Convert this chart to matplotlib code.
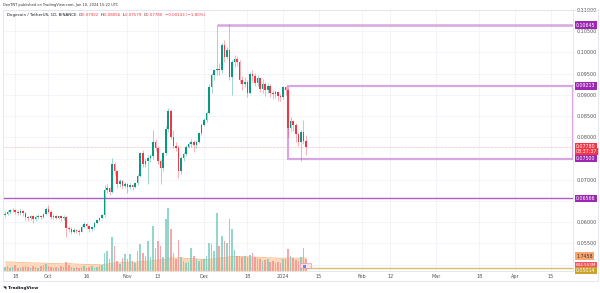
"""DOGE/USDT daily chart, TradingView-style snapshot."""
import matplotlib
matplotlib.use('Agg')
import matplotlib.pyplot as plt
import matplotlib.dates as mdates
import pandas as pd
from matplotlib.patches import Rectangle, FancyBboxPatch
from matplotlib.transforms import blended_transform_factory

plt.rcParams['font.family'] = 'DejaVu Sans'

# ── Data ─────────────────────────────────────────────────────────
dates = pd.date_range('2023-09-14', '2024-01-10', freq='D')
first_open = 0.0616
close = [
    0.0620, 0.0624, 0.0628, 0.0630, 0.0625, 0.0622, 0.0627, 0.0621, 0.0612, 0.0609,
    0.0614, 0.0608, 0.0612, 0.0615, 0.0613, 0.0620, 0.0632, 0.0625, 0.0612, 0.0615,
    0.0611, 0.0614, 0.0610, 0.0612, 0.0586, 0.0584, 0.0578, 0.0582, 0.0580, 0.0578,
    0.0590, 0.0597, 0.0592, 0.0585, 0.0588, 0.0598, 0.0605, 0.0610, 0.0616, 0.0675,
    0.0680, 0.0672, 0.0738, 0.0720, 0.0690, 0.0697, 0.0685, 0.0690, 0.0682, 0.0688,
    0.0684, 0.0692, 0.0710, 0.0762, 0.0738, 0.0745, 0.0752, 0.0755, 0.0788, 0.0775,
    0.0745, 0.0727, 0.0762, 0.0820, 0.0862, 0.0802, 0.0780, 0.0776, 0.0720, 0.0752,
    0.0760, 0.0778, 0.0784, 0.0788, 0.0782, 0.0790, 0.0810, 0.0830, 0.0840, 0.0858,
    0.0918, 0.0946, 0.0958, 0.0962, 0.0958, 0.1017, 0.0990, 0.1005, 0.0942, 0.0978,
    0.0985, 0.0978, 0.0935, 0.0925, 0.0930, 0.0905, 0.0950, 0.0945, 0.0928, 0.0940,
    0.0915, 0.0925, 0.0912, 0.0920, 0.0905, 0.0902, 0.0906, 0.0898, 0.0895, 0.0918,
    0.0912, 0.0822, 0.0838, 0.0830, 0.0808, 0.0790, 0.0812, 0.07922, 0.07780,
]
high = [
    0.0626, 0.0629, 0.0632, 0.0634, 0.0632, 0.0628, 0.0632, 0.0630, 0.0624, 0.0615,
    0.0618, 0.0617, 0.0616, 0.0619, 0.0618, 0.0622, 0.0636, 0.0640, 0.0628, 0.0619,
    0.0617, 0.0618, 0.0617, 0.0616, 0.0614, 0.0592, 0.0588, 0.0586, 0.0585, 0.0584,
    0.0593, 0.0600, 0.0599, 0.0594, 0.0592, 0.0601, 0.0608, 0.0613, 0.0619, 0.0688,
    0.0690, 0.0684, 0.0752, 0.0743, 0.0724, 0.0703, 0.0700, 0.0694, 0.0693, 0.0693,
    0.0691, 0.0695, 0.0713, 0.0766, 0.0770, 0.0752, 0.0758, 0.0760, 0.0818, 0.0795,
    0.0780, 0.0750, 0.0766, 0.0826, 0.0868, 0.0866, 0.0818, 0.0790, 0.0782, 0.0756,
    0.0765, 0.0781, 0.0790, 0.0797, 0.0794, 0.0794, 0.0813, 0.0834, 0.0846, 0.0863,
    0.0925, 0.0952, 0.0962, 0.10645, 0.0975, 0.1022, 0.1030, 0.1012, 0.1068, 0.0982,
    0.0995, 0.0992, 0.0983, 0.0945, 0.0942, 0.0935, 0.0953, 0.0958, 0.0952, 0.0946,
    0.0942, 0.0938, 0.0930, 0.0928, 0.0925, 0.0912, 0.0912, 0.0910, 0.0902, 0.0922,
    0.09213, 0.0915, 0.0848, 0.0842, 0.0835, 0.0812, 0.0818, 0.0840, 0.08056,
]
low = [
    0.0612, 0.0616, 0.0620, 0.0624, 0.0620, 0.0617, 0.0618, 0.0615, 0.0606, 0.0603,
    0.0605, 0.0598, 0.0604, 0.0608, 0.0607, 0.0610, 0.0618, 0.0621, 0.0607, 0.0608,
    0.0607, 0.0608, 0.0604, 0.0606, 0.0566, 0.0576, 0.0572, 0.0574, 0.0575, 0.0570,
    0.0576, 0.0586, 0.0586, 0.0578, 0.0580, 0.0585, 0.0595, 0.0602, 0.0608, 0.0612,
    0.0668, 0.0664, 0.0668, 0.0712, 0.0680, 0.0684, 0.0679, 0.0680, 0.0668, 0.0678,
    0.0676, 0.0680, 0.0688, 0.0707, 0.0730, 0.0730, 0.0690, 0.0742, 0.0750, 0.0768,
    0.0738, 0.0690, 0.0720, 0.0758, 0.0812, 0.0795, 0.0774, 0.0768, 0.0705, 0.0714,
    0.0745, 0.0755, 0.0775, 0.0778, 0.0765, 0.0775, 0.0786, 0.0806, 0.0826, 0.0836,
    0.0855, 0.0905, 0.0936, 0.0948, 0.0948, 0.0952, 0.0978, 0.0984, 0.0935, 0.0899,
    0.0965, 0.0968, 0.0928, 0.0912, 0.0918, 0.0895, 0.0902, 0.0930, 0.0920, 0.0922,
    0.0908, 0.0905, 0.0898, 0.0905, 0.0895, 0.0890, 0.0893, 0.0885, 0.0885, 0.0890,
    0.0900, 0.0800, 0.0815, 0.0815, 0.0790, 0.0780, 0.0745, 0.0785, 0.07579,
]
# volume in billions DOGE
volume = [
    0.20, 0.25, 0.15, 0.20, 0.30, 0.15, 0.15, 0.20, 0.25, 0.20,
    0.15, 0.25, 0.20, 0.15, 0.25, 0.30, 0.35, 0.25, 0.20, 0.15,
    0.20, 0.15, 0.25, 0.20, 0.45, 0.30, 0.20, 0.15, 0.20, 0.15,
    0.20, 0.25, 0.15, 0.20, 0.25, 0.15, 0.20, 0.25, 0.30, 0.90,
    1.00, 0.60, 1.70, 1.25, 0.50, 0.35, 0.65, 0.85, 0.60, 0.85,
    0.50, 0.40, 1.00, 1.35, 0.90, 0.75, 1.50, 0.70, 2.25, 1.15,
    1.50, 1.25, 0.70, 2.60, 3.15, 2.10, 0.90, 0.60, 1.55, 0.70,
    0.50, 0.40, 0.45, 1.15, 0.75, 0.60, 0.50, 0.55, 0.60, 0.75,
    1.40, 1.35, 1.00, 2.90, 1.25, 1.75, 1.50, 1.40, 2.60, 2.10,
    1.05, 0.75, 0.75, 0.70, 0.75, 0.70, 0.80, 0.90, 0.70, 0.65,
    0.60, 0.50, 0.55, 0.60, 0.45, 0.50, 0.40, 0.45, 0.40, 0.60,
    0.60, 1.10, 0.75, 0.65, 0.55, 0.50, 0.70, 1.15, 0.60,
]
volume_band = [
    0.45, 0.45, 0.45, 0.44, 0.44, 0.43, 0.43, 0.42, 0.42, 0.41,
    0.41, 0.40, 0.40, 0.40, 0.39, 0.39, 0.39, 0.38, 0.38, 0.38,
    0.37, 0.37, 0.36, 0.36, 0.37, 0.37, 0.36, 0.35, 0.35, 0.34,
    0.34, 0.33, 0.33, 0.33, 0.32, 0.32, 0.32, 0.31, 0.31, 0.33,
    0.35, 0.36, 0.39, 0.41, 0.41, 0.41, 0.42, 0.43, 0.43, 0.44,
    0.44, 0.44, 0.45, 0.47, 0.48, 0.48, 0.50, 0.50, 0.53, 0.54,
    0.55, 0.56, 0.56, 0.59, 0.63, 0.65, 0.65, 0.65, 0.66, 0.65,
    0.64, 0.63, 0.62, 0.62, 0.61, 0.60, 0.59, 0.58, 0.58, 0.58,
    0.59, 0.60, 0.60, 0.64, 0.65, 0.66, 0.67, 0.68, 0.71, 0.73,
    0.73, 0.73, 0.72, 0.72, 0.71, 0.71, 0.70, 0.70, 0.69, 0.69,
    0.68, 0.67, 0.67, 0.66, 0.66, 0.65, 0.65, 0.64, 0.64, 0.64,
    0.64, 0.65, 0.65, 0.65, 0.64, 0.64, 0.64, 0.65, 0.65,
]

tick_dates = ['2023-09-18', '2023-10-01', '2023-10-16', '2023-11-01', '2023-11-13',
              '2023-12-01', '2023-12-18', '2024-01-01', '2024-01-15', '2024-02-01',
              '2024-02-12', '2024-03-01', '2024-03-18', '2024-04-01', '2024-04-15']
tick_labels = ['18', 'Oct', '16', 'Nov', '13', 'Dec', '18', '2024', '15', 'Feb',
               '12', 'Mar', '18', 'Apr', '15']
grid_prices = [0.050, 0.055, 0.060, 0.065, 0.070, 0.075, 0.080, 0.085, 0.090,
               0.095, 0.100, 0.105, 0.110]
price_ticks = [0.055, 0.060, 0.070, 0.080, 0.085, 0.090, 0.095, 0.100, 0.105, 0.110]

resistance = 0.10645
resistance_from = '2023-12-06'
box_top, box_bottom = 0.09213, 0.07500
box_from = '2024-01-03'
support = 0.06566
last_price = 0.07780
indicator_level = 0.0492

GREEN = '#089981'
RED = '#f23645'
PURPLE_LIGHT = '#d7a6e3'
PURPLE = '#b05cc4'

# ── Figure ──────────────────────────────────────────────────────
W, H = 600, 293
fig = plt.figure(figsize=(W / 100, H / 100), dpi=100)
ax = fig.add_axes([3 / W, 1 - 271 / H, 570 / W, 261 / H])

x = mdates.date2num(dates)
opens = [first_open] + close[:-1]
x0 = x[0]
ax.set_xlim(x0 - 0.8, x0 + 222.7)
ax.set_ylim(0.04852, 0.1100)
xmax = x0 + 222.7

# grid
for gp in grid_prices:
    ax.axhline(gp, color='#f0f3fa', lw=0.6, zorder=0)
tick_x = mdates.date2num(pd.to_datetime(tick_dates))
for tx in tick_x:
    ax.axvline(tx, color='#f0f3fa', lw=0.6, zorder=0)

# volume on own scale
axv = ax.twinx()
axv.set_ylim(0, 261 / 20)
axv.set_yticks([])
axv.fill_between(x, 0, volume_band, color='#fcd3b0', alpha=0.85, lw=0, zorder=1)
axv.plot(x, volume_band, color='#f9b98a', lw=0.6, zorder=1)
vcol = ['#6fc9bc' if c >= o else '#f5898f' for o, c in zip(opens, close)]
axv.bar(x, volume, width=0.62, color=vcol, alpha=0.75, lw=0, zorder=2)
for s in axv.spines.values():
    s.set_visible(False)

# levels
ax.axhline(support, color=PURPLE, lw=1.0, zorder=2)
ax.hlines(resistance, mdates.date2num(pd.Timestamp(resistance_from)), xmax,
          color=PURPLE_LIGHT, lw=1.8, zorder=2)
bx = mdates.date2num(pd.Timestamp(box_from))
ax.add_patch(Rectangle((bx, box_bottom), xmax - bx, box_top - box_bottom,
                       fill=False, edgecolor=PURPLE_LIGHT, lw=1.6, zorder=2))
ax.axhline(last_price, color='#f7a1a8', lw=0.5, ls=(0, (1, 1)), zorder=2)
ax.axhline(indicator_level, color='#d9bf6a', lw=1.0, zorder=3)

# candles
for xi, o, h, l, c in zip(x, opens, high, low, close):
    col = GREEN if c >= o else RED
    ax.vlines(xi, l, h, color=col, lw=0.6, alpha=0.45, zorder=3)
    body = max(abs(c - o), 0.00012)
    ax.bar(xi, body, bottom=min(o, c), width=0.62, color=col, lw=0, zorder=4)

# small event marker near the last bar
fig.add_artist(FancyBboxPatch((301 / W, 1 - 268 / H), 10 / W, 4 / H,
                              boxstyle='round,pad=0.001', transform=fig.transFigure,
                              fc='#fde3ea', ec='#f48fb1', lw=0.5, zorder=20))
fig.add_artist(Rectangle((303 / W, 1 - 267.5 / H), 3 / W, 3 / H,
                         transform=fig.transFigure, fc='#4f8fe8', ec='none', zorder=21))

# axes styling
ax.set_xticks(tick_x)
ax.set_xticklabels(tick_labels)
ax.set_yticks(price_ticks)
ax.set_yticklabels([f'{p:.5f}' for p in price_ticks])
ax.yaxis.tick_right()
ax.tick_params(axis='both', length=0, labelsize=3.5, colors='#555555')
ax.tick_params(axis='y', pad=2.5)
ax.tick_params(axis='x', pad=2.5)
for name, s in ax.spines.items():
    s.set_color('#e0e3eb')
    s.set_linewidth(0.6)
ax.spines['top'].set_visible(False)
ax.spines['left'].set_visible(False)

# price tags on right axis
tr = blended_transform_factory(ax.transAxes, ax.transData)


def tag(y, text, fc, tc='white', size=3.4):
    ax.text(1.0 + 3 / 570, y, text, transform=tr, fontsize=size, color=tc,
            va='center', ha='left', zorder=10, clip_on=False,
            bbox=dict(boxstyle='square,pad=0.25', fc=fc, ec='none'))


tag(resistance, f'{resistance:.5f}', '#9c27b0')
tag(box_top, f'{box_top:.5f}', '#9c27b0')
tag(last_price, f'{last_price:.5f}', RED)
tag(last_price - 0.00118, '08:37:37', RED)
tag(box_bottom, f'{box_bottom:.5f}', '#9c27b0')
tag(support, f'{support:.5f}', '#9c27b0')
tag(0.05205, '1.7458', '#f9a66c', '#333333')
tag(0.04990, '604.553M', '#f7525f', size=3.0)
tag(0.04868, '0.05014', '#c9a227')

# header
fig.text(3 / W, 1 - 5 / H, 'DenTNT published on TradingView.com, Jan 10, 2024 15:22 UTC',
         fontsize=2.6, color='#333333', va='center')
legend_parts = [
    ('Dogecoin / TetherUS, 1D, BINANCE  ', '#131722'),
    ('O', '#131722'), ('0.07922  ', RED),
    ('H', '#131722'), ('0.08056  ', RED),
    ('L', '#131722'), ('0.07579  ', RED),
    ('C', '#131722'), ('0.07780  ', RED),
    ('−0.00143 (−1.80%)', RED),
]
renderer = fig.canvas.get_renderer()
cur = 7
for txt, col in legend_parts:
    t = fig.text(cur / W, 1 - 15 / H, txt, fontsize=2.9, color=col, va='center')
    cur += t.get_window_extent(renderer).width

# outer frame and footer
fig.add_artist(Rectangle((3 / W, 1 - 281 / H), 595 / W, 271 / H, transform=fig.transFigure,
                         fill=False, edgecolor='#e0e3eb', lw=0.6))
fig.text(3 / W, 1 - 288 / H, '◥ TradingView', fontsize=3.2, color='#131722',
         va='center', fontweight='bold')

fig.savefig('out.png', dpi=100)
print('Saved: out.png')
